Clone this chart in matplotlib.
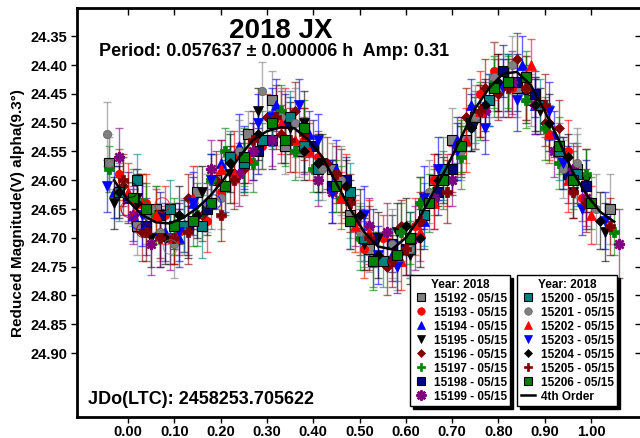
import numpy as np
import matplotlib.pyplot as plt
from matplotlib.lines import Line2D

plt.rcParams['font.family'] = ['Liberation Sans', 'DejaVu Sans']
plt.rcParams['font.weight'] = 'bold'

sessions = ['15192', '15193', '15194', '15195', '15196', '15197', '15198', '15199',
            '15200', '15201', '15202', '15203', '15204', '15205', '15206']

# (phase, reduced mag, error), one list per session
s15192 = [(-0.04, 24.57, 0.045), (0.06, 24.65, 0.04), (0.12, 24.68, 0.05), (0.19, 24.60, 0.045),
          (0.26, 24.52, 0.04), (0.31, 24.46, 0.05), (0.37, 24.55, 0.045), (0.44, 24.58, 0.045),
          (0.52, 24.72, 0.04), (0.58, 24.74, 0.05), (0.66, 24.60, 0.045), (0.73, 24.53, 0.04),
          (0.80, 24.44, 0.05), (0.87, 24.46, 0.045), (0.94, 24.57, 0.045), (1.04, 24.65, 0.06),
          (0.02, 24.68, 0.05), (0.15, 24.62, 0.045), (0.34, 24.54, 0.05), (0.48, 24.66, 0.04),
          (0.70, 24.53, 0.055), (0.84, 24.44, 0.05), (0.97, 24.58, 0.06)]
s15193 = [(-0.02, 24.59, 0.045), (0.04, 24.64, 0.05), (0.11, 24.69, 0.04), (0.17, 24.67, 0.055),
          (0.23, 24.56, 0.045), (0.29, 24.54, 0.04), (0.34, 24.49, 0.05), (0.41, 24.56, 0.045),
          (0.47, 24.61, 0.055), (0.55, 24.70, 0.04), (0.62, 24.68, 0.05), (0.69, 24.60, 0.045),
          (0.76, 24.45, 0.04), (0.83, 24.44, 0.05), (0.91, 24.52, 0.045), (0.98, 24.63, 0.04),
          (0.08, 24.66, 0.05), (0.20, 24.62, 0.045), (0.38, 24.53, 0.055), (0.51, 24.72, 0.05),
          (0.66, 24.60, 0.045), (0.79, 24.41, 0.05), (0.95, 24.55, 0.055)]
s15194 = [(0.01, 24.66, 0.045), (0.08, 24.69, 0.05), (0.14, 24.64, 0.045), (0.20, 24.57, 0.04),
          (0.27, 24.55, 0.05), (0.32, 24.47, 0.045), (0.39, 24.52, 0.04), (0.45, 24.58, 0.05),
          (0.51, 24.70, 0.04), (0.57, 24.73, 0.045), (0.64, 24.67, 0.05), (0.71, 24.53, 0.04),
          (0.78, 24.46, 0.045), (0.85, 24.40, 0.05), (0.92, 24.52, 0.04), (0.99, 24.64, 0.045),
          (-0.03, 24.62, 0.045), (0.11, 24.70, 0.05), (0.24, 24.54, 0.055), (0.35, 24.50, 0.045),
          (0.48, 24.67, 0.05), (0.61, 24.71, 0.055), (0.74, 24.47, 0.045), (0.88, 24.47, 0.05)]
s15195 = [(-0.03, 24.64, 0.045), (0.05, 24.70, 0.05), (0.10, 24.68, 0.04), (0.16, 24.62, 0.045),
          (0.22, 24.59, 0.05), (0.28, 24.48, 0.04), (0.35, 24.51, 0.045), (0.42, 24.57, 0.05),
          (0.48, 24.64, 0.04), (0.54, 24.70, 0.045), (0.61, 24.73, 0.05), (0.68, 24.60, 0.04),
          (0.75, 24.50, 0.045), (0.82, 24.43, 0.05), (0.89, 24.48, 0.04), (0.96, 24.62, 0.045),
          (1.03, 24.69, 0.05), (0.02, 24.63, 0.05), (0.13, 24.69, 0.045), (0.25, 24.57, 0.05),
          (0.38, 24.50, 0.055), (0.51, 24.71, 0.045), (0.58, 24.69, 0.05), (0.72, 24.55, 0.045),
          (0.86, 24.45, 0.05), (0.99, 24.60, 0.055)]
s15196 = [(-0.01, 24.61, 0.05), (0.07, 24.69, 0.045), (0.13, 24.63, 0.04), (0.19, 24.60, 0.05),
          (0.25, 24.58, 0.045), (0.30, 24.49, 0.04), (0.36, 24.48, 0.05), (0.43, 24.57, 0.045),
          (0.50, 24.69, 0.04), (0.56, 24.75, 0.05), (0.63, 24.64, 0.045), (0.70, 24.58, 0.04),
          (0.77, 24.44, 0.05), (0.84, 24.39, 0.045), (0.90, 24.50, 0.04), (0.97, 24.59, 0.05),
          (0.03, 24.69, 0.05), (0.16, 24.66, 0.045), (0.33, 24.52, 0.05), (0.46, 24.60, 0.055),
          (0.59, 24.68, 0.045), (0.73, 24.49, 0.05), (0.80, 24.45, 0.045), (0.93, 24.51, 0.05)]
s15197 = [(-0.04, 24.58, 0.04), (0.03, 24.64, 0.05), (0.09, 24.70, 0.045), (0.15, 24.66, 0.055),
          (0.21, 24.55, 0.04), (0.27, 24.57, 0.05), (0.33, 24.48, 0.045), (0.40, 24.58, 0.04),
          (0.46, 24.63, 0.055), (0.53, 24.74, 0.045), (0.59, 24.69, 0.05), (0.66, 24.62, 0.04),
          (0.72, 24.56, 0.055), (0.79, 24.43, 0.045), (0.86, 24.46, 0.05), (0.93, 24.57, 0.045),
          (1.05, 24.69, 0.04), (0.06, 24.66, 0.05), (0.18, 24.60, 0.045), (0.36, 24.55, 0.05),
          (0.50, 24.70, 0.055), (0.63, 24.64, 0.045), (0.76, 24.48, 0.05), (0.90, 24.51, 0.055),
          (0.99, 24.59, 0.045)]
s15198 = [(0.00, 24.63, 0.045), (0.07, 24.66, 0.04), (0.13, 24.68, 0.05), (0.21, 24.61, 0.045),
          (0.28, 24.55, 0.04), (0.34, 24.50, 0.05), (0.40, 24.54, 0.045), (0.47, 24.60, 0.04),
          (0.53, 24.70, 0.05), (0.60, 24.72, 0.045), (0.67, 24.62, 0.04), (0.74, 24.50, 0.05),
          (0.81, 24.41, 0.045), (0.88, 24.45, 0.04), (0.95, 24.59, 0.05), (0.04, 24.68, 0.05),
          (0.17, 24.65, 0.045), (0.31, 24.53, 0.05), (0.44, 24.61, 0.045), (0.57, 24.71, 0.05),
          (0.70, 24.58, 0.045), (0.84, 24.43, 0.05), (0.99, 24.61, 0.045)]
s15199 = [(-0.02, 24.56, 0.05), (0.05, 24.71, 0.055), (0.12, 24.68, 0.045), (0.18, 24.58, 0.05),
          (0.24, 24.59, 0.055), (0.31, 24.53, 0.045), (0.38, 24.54, 0.05), (0.44, 24.62, 0.055),
          (0.49, 24.67, 0.045), (0.56, 24.69, 0.05), (0.62, 24.70, 0.055), (0.70, 24.60, 0.045),
          (0.77, 24.48, 0.05), (0.83, 24.43, 0.055), (0.92, 24.55, 0.045), (0.99, 24.63, 0.05),
          (1.06, 24.71, 0.06), (0.01, 24.66, 0.05), (0.09, 24.70, 0.055), (0.27, 24.55, 0.05),
          (0.41, 24.60, 0.045), (0.52, 24.68, 0.05), (0.66, 24.63, 0.055), (0.88, 24.47, 0.05),
          (0.96, 24.58, 0.045)]
s15200 = [(0.02, 24.60, 0.045), (0.09, 24.65, 0.05), (0.16, 24.68, 0.055), (0.22, 24.56, 0.045),
          (0.29, 24.53, 0.05), (0.35, 24.49, 0.045), (0.41, 24.58, 0.055), (0.48, 24.62, 0.05),
          (0.55, 24.74, 0.045), (0.61, 24.72, 0.05), (0.68, 24.58, 0.055), (0.75, 24.49, 0.045),
          (0.82, 24.43, 0.05), (0.89, 24.47, 0.045), (0.97, 24.59, 0.055), (-0.02, 24.62, 0.05),
          (0.12, 24.68, 0.045), (0.25, 24.57, 0.05), (0.38, 24.54, 0.045), (0.51, 24.70, 0.05),
          (0.64, 24.66, 0.055), (0.78, 24.46, 0.045), (0.93, 24.55, 0.05)]
s15201 = [(-0.045, 24.52, 0.055), (0.04, 24.66, 0.05), (0.10, 24.71, 0.06), (0.17, 24.64, 0.05),
          (0.24, 24.55, 0.055), (0.29, 24.445, 0.05), (0.36, 24.50, 0.06), (0.42, 24.58, 0.055),
          (0.50, 24.69, 0.05), (0.57, 24.71, 0.06), (0.65, 24.62, 0.055), (0.72, 24.55, 0.05),
          (0.79, 24.42, 0.06), (0.86, 24.44, 0.055), (0.94, 24.58, 0.05), (1.01, 24.65, 0.06),
          (0.07, 24.69, 0.05), (0.20, 24.63, 0.055), (0.33, 24.49, 0.05), (0.46, 24.60, 0.06),
          (0.61, 24.72, 0.05), (0.75, 24.49, 0.055), (0.83, 24.40, 0.05), (0.97, 24.57, 0.06),
          (-0.04, 24.57, 0.05)]
s15202 = [(0.00, 24.62, 0.05), (0.06, 24.66, 0.045), (0.14, 24.63, 0.055), (0.20, 24.58, 0.05),
          (0.26, 24.56, 0.045), (0.33, 24.50, 0.055), (0.39, 24.55, 0.05), (0.46, 24.63, 0.045),
          (0.52, 24.69, 0.055), (0.59, 24.74, 0.05), (0.66, 24.64, 0.045), (0.73, 24.53, 0.055),
          (0.80, 24.43, 0.05), (0.87, 24.40, 0.045), (0.95, 24.60, 0.055), (1.00, 24.66, 0.05),
          (0.03, 24.64, 0.05), (0.10, 24.70, 0.045), (0.23, 24.59, 0.05), (0.36, 24.53, 0.055),
          (0.49, 24.68, 0.045), (0.63, 24.69, 0.05), (0.76, 24.48, 0.045), (0.91, 24.52, 0.05)]
s15203 = [(-0.045, 24.61, 0.045), (0.03, 24.66, 0.055), (0.11, 24.69, 0.05), (0.18, 24.60, 0.045),
          (0.25, 24.56, 0.055), (0.31, 24.49, 0.05), (0.37, 24.47, 0.045), (0.44, 24.62, 0.055),
          (0.51, 24.66, 0.05), (0.58, 24.75, 0.045), (0.64, 24.63, 0.055), (0.71, 24.55, 0.05),
          (0.77, 24.51, 0.045), (0.84, 24.46, 0.055), (0.91, 24.48, 0.05), (0.98, 24.65, 0.045),
          (0.07, 24.70, 0.05), (0.14, 24.64, 0.055), (0.28, 24.50, 0.05), (0.41, 24.53, 0.045),
          (0.54, 24.73, 0.05), (0.67, 24.58, 0.055), (0.81, 24.44, 0.05), (0.94, 24.57, 0.045),
          (1.03, 24.67, 0.05)]
s15204 = [(0.02, 24.64, 0.05), (0.08, 24.70, 0.045), (0.15, 24.66, 0.04), (0.22, 24.57, 0.05),
          (0.28, 24.52, 0.045), (0.34, 24.53, 0.04), (0.41, 24.57, 0.05), (0.47, 24.61, 0.045),
          (0.54, 24.73, 0.04), (0.60, 24.68, 0.05), (0.67, 24.60, 0.045), (0.74, 24.51, 0.04),
          (0.80, 24.43, 0.05), (0.88, 24.47, 0.045), (0.95, 24.56, 0.04), (1.02, 24.67, 0.05),
          (-0.02, 24.62, 0.045), (0.11, 24.66, 0.05), (0.25, 24.56, 0.045), (0.38, 24.55, 0.05),
          (0.50, 24.66, 0.045), (0.63, 24.70, 0.05), (0.77, 24.47, 0.045), (0.91, 24.50, 0.05)]
s15205 = [(-0.01, 24.60, 0.045), (0.07, 24.70, 0.05), (0.13, 24.69, 0.055), (0.20, 24.66, 0.045),
          (0.27, 24.53, 0.05), (0.32, 24.49, 0.055), (0.38, 24.52, 0.045), (0.45, 24.59, 0.05),
          (0.52, 24.70, 0.055), (0.57, 24.74, 0.045), (0.63, 24.67, 0.05), (0.69, 24.62, 0.055),
          (0.76, 24.48, 0.045), (0.82, 24.44, 0.05), (0.90, 24.47, 0.055), (0.96, 24.62, 0.045),
          (1.04, 24.68, 0.05), (0.04, 24.69, 0.05), (0.10, 24.70, 0.045), (0.23, 24.60, 0.05),
          (0.35, 24.53, 0.055), (0.48, 24.64, 0.05), (0.60, 24.72, 0.045), (0.72, 24.54, 0.05),
          (0.86, 24.44, 0.055), (0.99, 24.64, 0.05)]
s15206 = [(0.04, 24.65, 0.045), (0.10, 24.68, 0.05), (0.18, 24.64, 0.045), (0.25, 24.56, 0.05),
          (0.31, 24.50, 0.045), (0.38, 24.51, 0.05), (0.45, 24.61, 0.045), (0.53, 24.74, 0.05),
          (0.58, 24.73, 0.045), (0.65, 24.64, 0.05), (0.72, 24.54, 0.045), (0.79, 24.44, 0.05),
          (0.86, 24.42, 0.045), (0.93, 24.54, 0.05), (1.00, 24.64, 0.045), (0.01, 24.63, 0.05),
          (0.14, 24.67, 0.045), (0.21, 24.61, 0.05), (0.34, 24.53, 0.045), (0.48, 24.67, 0.05),
          (0.61, 24.70, 0.045), (0.68, 24.60, 0.05), (0.82, 24.43, 0.045), (0.96, 24.60, 0.05)]

# ringed points near the first minimum
ring_ph = [0.0, 0.074, 0.023, 0.034, 0.092, 0.006, 0.185, 0.002]
ring_mg = [24.649, 24.643, 24.673, 24.687, 24.716, 24.617, 24.638, 24.652]
ring_col = ['red', 'red', 'blue', '#800000', 'gray', 'black', 'blue', 'purple']

# 4th order Fourier fit
fit_ph = [-0.03, 0.00, 0.03, 0.06, 0.09, 0.12, 0.15, 0.18, 0.21, 0.24, 0.27, 0.30, 0.33, 0.36,
          0.39, 0.42, 0.45, 0.48, 0.51, 0.54, 0.57, 0.60, 0.63, 0.66, 0.69, 0.72, 0.75, 0.78,
          0.81, 0.84, 0.87, 0.90, 0.93, 0.96, 0.99, 1.02, 1.05]
fit_mg = [24.60, 24.635, 24.66, 24.673, 24.675, 24.665, 24.648, 24.625, 24.595, 24.56, 24.53,
          24.515, 24.508, 24.51, 24.53, 24.56, 24.605, 24.65, 24.69, 24.715, 24.72, 24.70,
          24.665, 24.62, 24.575, 24.525, 24.475, 24.44, 24.415, 24.412, 24.435, 24.48, 24.53,
          24.585, 24.625, 24.655, 24.672]

session_data = [s15192, s15193, s15194, s15195, s15196, s15197, s15198, s15199,
                s15200, s15201, s15202, s15203, s15204, s15205, s15206]

# color, marker, size, edge color, edge width
styles = [
    ('#808080', 's', 6.5, 'black', 0.8),
    ('#ff0000', 'o', 6, '#ff0000', 0.5),
    ('#0000ff', '^', 6.5, '#0000ff', 0.5),
    ('#000000', 'v', 6.5, '#000000', 0.5),
    ('#800000', 'D', 5, '#800000', 0.5),
    ('#008000', 'P', 7, '#008000', 0.5),
    ('#000080', 's', 6.5, 'black', 0.8),
    ('#800080', (8, 2, 0), 8, '#800080', 1.8),
    ('#008080', 's', 6.5, 'black', 0.8),
    ('#808080', 'o', 6, '#606060', 0.5),
    ('#ff0000', '^', 6.5, '#ff0000', 0.5),
    ('#0000ff', 'v', 6.5, '#0000ff', 0.5),
    ('#000000', 'D', 5, '#000000', 0.5),
    ('#800000', 'P', 7, '#800000', 0.5),
    ('#008000', 's', 6.5, 'black', 0.8),
]

fig = plt.figure(figsize=(6.4, 4.38), dpi=100)
ax = fig.add_axes([77 / 640, 21 / 438, 565 / 640, 409 / 438])

for data, st in zip(session_data, styles):
    col, mk, ms, ec, ew = st
    ph = [d[0] for d in data]
    mg = [d[1] for d in data]
    er = [d[2] for d in data]
    ax.errorbar(ph, mg, yerr=er, fmt='none', ecolor=col, alpha=0.6,
                elinewidth=1, capsize=3, capthick=1, zorder=2)
    ax.plot(ph, mg, linestyle='none', marker=mk, markersize=ms, color=col,
            markeredgecolor=ec, markeredgewidth=ew, zorder=3)

ax.scatter(ring_ph, ring_mg, s=110, facecolors='none', edgecolors=ring_col,
           linewidths=0.8, alpha=0.7, zorder=3)

ax.plot(fit_ph, fit_mg, color='black', linewidth=1.8, zorder=4)

ax.set_xlim(-0.11, 1.11)
ax.set_ylim(25.011, 24.301)
xt = np.arange(0, 1.01, 0.1)
yt = np.arange(24.35, 24.91, 0.05)
ax.set_xticks(xt)
ax.set_xticklabels(['%.2f' % v for v in xt])
ax.set_yticks(yt)
ax.set_yticklabels(['%.2f' % v for v in yt])
ax.tick_params(axis='both', direction='out', length=4, width=1, labelsize=10.5, pad=3)
ax.tick_params(axis='x', pad=2)
for s in ['left', 'bottom', 'top']:
    ax.spines[s].set_linewidth(2)
ax.spines['right'].set_visible(False)

top = ax.secondary_xaxis('top')
top.set_xticks(xt)
top.tick_params(direction='in', length=5, width=1, labeltop=False)
top.spines['top'].set_visible(False)
right = ax.secondary_yaxis('right')
right.set_yticks(yt)
right.tick_params(direction='in', length=5, width=1, labelright=False)
right.spines['right'].set_visible(False)

fig.text(18 / 640, 1 - 213 / 438, 'Reduced Magnitude(V) alpha(9.3°)', rotation=90,
         ha='center', va='center', fontsize=11, fontweight='bold')
fig.text(281 / 640, 1 - 31 / 438, '2018 JX', ha='center', va='center',
         fontsize=20, fontweight='bold')
fig.text(274 / 640, 1 - 52 / 438, 'Period: 0.057637 ± 0.000006 h  Amp: 0.31',
         ha='center', va='center', fontsize=13, fontweight='bold')
fig.text(88 / 640, 1 - 400 / 438, 'JDo(LTC): 2458253.705622', ha='left', va='center',
         fontsize=13, fontweight='bold')

handles = []
for name, st in zip(sessions, styles):
    col, mk, ms, ec, ew = st
    handles.append(Line2D([], [], linestyle='none', marker=mk, markersize=ms * 0.9, color=col,
                          markeredgecolor=ec, markeredgewidth=ew, label=name + ' - 05/15'))
fit_handle = Line2D([], [], color='black', linewidth=1.8, label='4th Order')

leg_kw = dict(loc='upper left', bbox_transform=fig.transFigure, borderaxespad=0,
              title='Year: 2018', title_fontproperties={'weight': 'bold', 'size': 8.5},
              prop={'weight': 'bold', 'size': 8.5}, fancybox=False, edgecolor='black',
              framealpha=1, shadow={'color': 'black', 'alpha': 1}, borderpad=0.3,
              handlelength=1.2, handletextpad=0.5, labelspacing=0.17)
leg1 = ax.legend(handles=handles[:8], bbox_to_anchor=(410 / 640, 1 - 275 / 438), **leg_kw)
leg1.get_frame().set_linewidth(1)
ax.add_artist(leg1)
leg2 = ax.legend(handles=handles[8:] + [fit_handle], bbox_to_anchor=(517 / 640, 1 - 275 / 438), **leg_kw)
leg2.get_frame().set_linewidth(1)

fig.savefig('out.png', dpi=100)
